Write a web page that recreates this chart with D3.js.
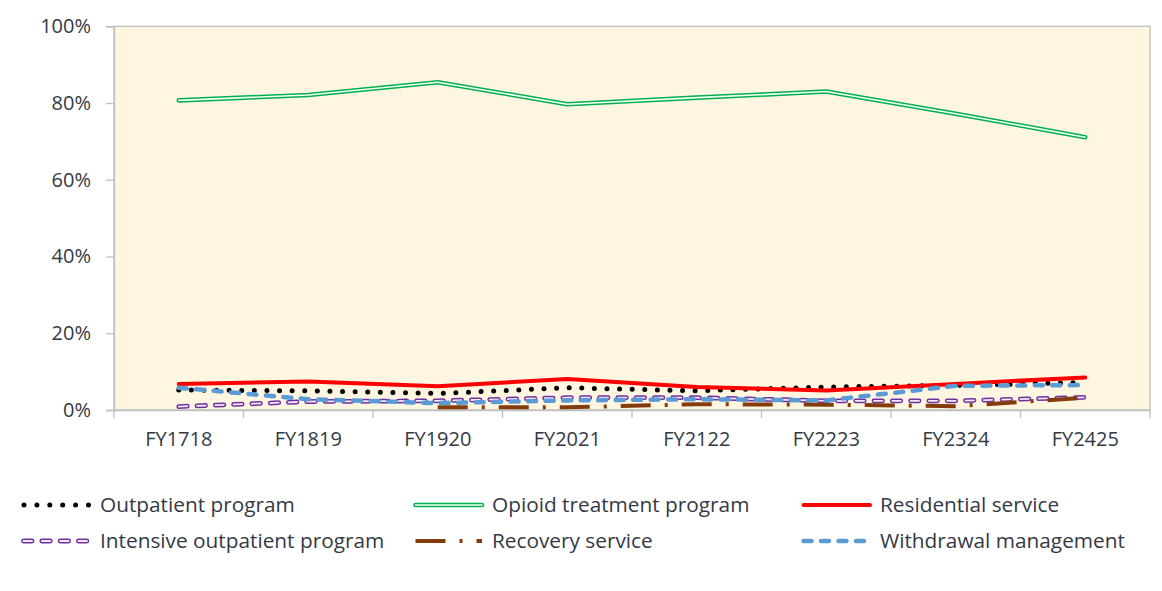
<!DOCTYPE html>
<html>
<head>
<meta charset="utf-8">
<script src="https://cdn.jsdelivr.net/npm/d3@7/dist/d3.min.js"></script>
<style>
  html, body { margin: 0; padding: 0; background: #ffffff; }
  svg { display: block; font-family: "Open Sans", "Liberation Sans", sans-serif; }
</style>
</head>
<body>
<svg id="chart" width="1162" height="591"></svg>
<script>
// Fiscal years shown on the x axis
const years = ["FY1718", "FY1819", "FY1920", "FY2021", "FY2122", "FY2223", "FY2324", "FY2425"];

// Share of admissions by program type (percent)
const outpatient   = [5.2, 5.0, 4.3, 5.8, 5.0, 6.0, 6.4, 7.2];
const opioid       = [80.7, 82.1, 85.4, 79.7, 81.4, 83.0, 77.2, 71.1];
const residential  = [6.8, 7.4, 6.2, 8.1, 6.0, 5.1, 6.8, 8.5];
const intensive    = [0.9, 2.2, 2.4, 3.2, 3.2, 2.4, 2.4, 3.3];
const recovery     = [null, null, 0.7, 0.7, 1.5, 1.4, 1.0, 3.2];
const withdrawal   = [5.8, 2.8, 1.8, 2.5, 2.8, 2.5, 6.3, 6.5];

const yTicks = [0, 20, 40, 60, 80, 100];

const seriesNames = [
  "Outpatient program", "Opioid treatment program", "Residential service",
  "Intensive outpatient program", "Recovery service", "Withdrawal management"
];
const seriesValues = [outpatient, opioid, residential, intensive, recovery, withdrawal];

const plotBg = "#FFF6E2";
const axisGray = "#BFBFBF";
const textColor = "#333a44";

const margin = { left: 114, right: 12, top: 26.3, bottom: 181 };
const W = 1162, H = 591;
const innerW = W - margin.left - margin.right;
const innerH = H - margin.top - margin.bottom;

const svg = d3.select("#chart");
const g = svg.append("g").attr("transform", `translate(${margin.left},${margin.top})`);

const x = d3.scaleBand().domain(years).range([0, innerW]);
const y = d3.scaleLinear().domain([0, 100]).range([innerH, 0]);

// plot area background
g.append("rect")
  .attr("x", 0).attr("y", 0).attr("width", innerW).attr("height", innerH)
  .attr("fill", plotBg).attr("stroke", axisGray).attr("stroke-width", 1.3);

// y axis
const yAxis = g.append("g")
  .call(d3.axisLeft(y).tickValues(yTicks).tickFormat(d => d + "%").tickSize(8).tickPadding(15));
yAxis.select(".domain").attr("stroke", axisGray).attr("stroke-width", 1.3);
yAxis.selectAll(".tick line").attr("stroke", axisGray).attr("stroke-width", 1.3);
yAxis.selectAll(".tick text").attr("fill", textColor).style("font-size", "20px")
  .style("font-family", "'Open Sans', sans-serif");

// x axis: labels at category centres, tick marks on category boundaries
const xAxis = g.append("g").attr("transform", `translate(0,${innerH})`)
  .call(d3.axisBottom(x).tickSize(0).tickPadding(22));
xAxis.select(".domain").attr("stroke", axisGray).attr("stroke-width", 1.3);
xAxis.selectAll(".tick text").attr("fill", textColor).style("font-size", "20px")
  .style("font-family", "'Open Sans', sans-serif");
const bounds = years.map(d => x(d)).concat([innerW]);
g.append("g").selectAll("line").data(bounds).join("line")
  .attr("x1", d => d).attr("x2", d => d)
  .attr("y1", innerH).attr("y2", innerH + 8)
  .attr("stroke", axisGray).attr("stroke-width", 1.3);

// stroke styles for each series; each entry is a list of stacked strokes
const styles = [
  [ { stroke: "#000000", width: 5, dash: "0 12.6", cap: "round" } ],
  [ { stroke: "#00B050", width: 4.6, dash: null, cap: "round" },
    { stroke: "#F4FFF6", width: 1.6, dash: null, cap: "round" } ],
  [ { stroke: "#FF0000", width: 4, dash: null, cap: "round" } ],
  [ { stroke: "#7030A0", width: 4.8, dash: "8.5 9.8", cap: "round" },
    { stroke: "#F3E9F5", width: 1.8, dash: "8.5 9.8", cap: "round" } ],
  [ { stroke: "#843C0C", width: 4, dash: "30 14 3 14", cap: "butt" } ],
  [ { stroke: "#5B9BD5", width: 4.5, dash: "8 9.5", cap: "round" } ]
];

function paint(sel, pathD, layers) {
  layers.forEach(s => {
    sel.append("path")
      .attr("d", pathD)
      .attr("fill", "none")
      .attr("stroke", s.stroke)
      .attr("stroke-width", s.width)
      .attr("stroke-linecap", s.cap)
      .attr("stroke-linejoin", "round")
      .attr("stroke-dasharray", s.dash);
  });
}

const line = d3.line()
  .defined(d => d.v !== null)
  .x(d => x(d.year) + x.bandwidth() / 2)
  .y(d => y(d.v));

const linesG = g.append("g");
seriesValues.forEach((vals, i) => {
  const pts = years.map((yr, j) => ({ year: yr, v: vals[j] }));
  const sg = linesG.append("g").attr("class", "series");
  paint(sg, line(pts), styles[i]);
});

// legend: two rows of three entries
const legCols = [22, 414, 802];
const legRows = [505, 541];
const legend = svg.append("g");
seriesNames.forEach((name, i) => {
  const cx = legCols[i % 3], cy = legRows[Math.floor(i / 3)];
  const item = legend.append("g");
  const x0 = i === 0 ? cx + 2 : cx + 1.5;
  const x1 = i === 0 ? cx + 66.5 : cx + 68;
  paint(item, d3.line()([[x0, cy], [x1, cy]]), i === 0
    ? [ { stroke: "#000000", width: 5, dash: "0 12.9", cap: "round" } ]
    : styles[i]);
  item.append("text")
    .attr("x", cx + 78).attr("y", cy)
    .attr("dy", "0.35em")
    .attr("fill", textColor)
    .style("font-size", "20.8px")
    .text(name);
});
</script>
</body>
</html>
